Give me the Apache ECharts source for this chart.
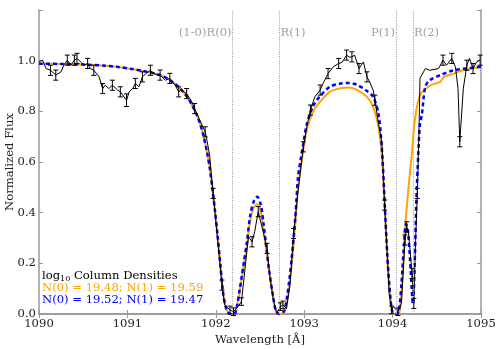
<!DOCTYPE html>
<html>
<head>
<meta charset="utf-8">
<script src="https://cdn.jsdelivr.net/npm/echarts@6/dist/echarts.min.js"></script>
<style>
html,body{margin:0;padding:0;background:#fff;}
#chart{width:498px;height:349px;}
</style>
</head>
<body>
<div id="chart"></div>
<script>
// observed spectrum (wavelength, flux, error half-size; 0 = no bar drawn)
var obsWave = [1090.00,1090.04,1090.08,1090.13,1090.19,1090.25,1090.28,1090.32,1090.36,1090.40,1090.43,1090.47,1090.51,1090.55,1090.58,1090.62,1090.68,1090.72,1090.75,1090.79,1090.83,1090.89,1090.92,1090.99,1091.02,1091.06,1091.09,1091.13,1091.17,1091.21,1091.26,1091.30,1091.34,1091.37,1091.43,1091.48,1091.54,1091.58,1091.61,1091.67,1091.73,1091.76,1091.82,1091.88,1091.90,1091.93,1091.97,1092.01,1092.07,1092.10,1092.16,1092.20,1092.25,1092.29,1092.37,1092.41,1092.44,1092.48,1092.50,1092.54,1092.58,1092.61,1092.65,1092.69,1092.73,1092.76,1092.80,1092.84,1092.88,1092.92,1092.95,1092.99,1093.03,1093.07,1093.12,1093.18,1093.22,1093.27,1093.33,1093.39,1093.43,1093.48,1093.51,1093.54,1093.57,1093.62,1093.67,1093.71,1093.74,1093.78,1093.80,1093.84,1093.88,1093.91,1093.94,1093.96,1093.99,1094.01,1094.06,1094.10,1094.14,1094.16,1094.18,1094.22,1094.24,1094.26,1094.28,1094.30,1094.31,1094.33,1094.35,1094.37,1094.42,1094.52,1094.57,1094.61,1094.67,1094.71,1094.74,1094.76,1094.80,1094.84,1094.87,1094.91,1094.95,1094.99];
var obsFlux = [0.995,1.002,0.969,0.962,0.943,0.956,0.982,1.002,0.982,1.002,1.009,0.995,0.982,0.989,0.969,0.962,0.936,0.890,0.903,0.890,0.903,0.884,0.877,0.844,0.877,0.890,0.910,0.897,0.936,0.949,0.962,0.949,0.943,0.943,0.923,0.930,0.903,0.877,0.884,0.870,0.837,0.811,0.765,0.719,0.686,0.627,0.476,0.330,0.114,0.036,0.016,0.009,0.029,0.049,0.305,0.285,0.325,0.404,0.410,0.318,0.259,0.154,0.055,0.003,0.029,0.036,0.022,0.114,0.318,0.450,0.542,0.660,0.740,0.805,0.857,0.884,0.915,0.949,0.976,0.989,0.994,1.022,1.014,1.015,1.022,0.969,0.995,0.936,0.916,0.884,0.844,0.752,0.673,0.430,0.233,0.082,0.016,0.029,0.009,0.042,0.292,0.344,0.320,0.160,0.042,0.290,0.476,0.752,0.930,0.923,0.956,0.969,0.962,0.969,1.002,0.982,1.009,0.976,0.890,0.680,0.890,0.982,1.009,0.969,0.995,1.002];
var obsErr = [0,0,0,0.02,0.02,0,0,0.02,0,0.02,0.02,0,0,0.02,0,0.02,0,0.02,0,0,0.02,0,0.02,0.025,0,0,0.02,0,0.02,0,0.02,0,0,0.02,0,0.02,0,0.02,0,0.02,0,0.02,0,0.02,0,0,0.02,0,0.02,0,0.015,0.015,0,0.015,0,0.02,0,0.02,0,0,0.02,0,0,0,0.015,0.015,0,0,0.02,0,0,0.02,0,0.02,0,0.02,0,0.02,0,0.02,0,0.02,0,0.02,0,0.02,0,0.02,0,0,0.02,0,0,0.02,0,0,0.015,0,0.015,0,0.02,0.02,0,0.02,0.02,0,0.02,0,0,0,0,0,0,0,0.02,0,0.02,0,0,0.02,0,0.02,0,0.02,0,0.02,0];

// model: N(0)=19.48, N(1)=19.59
var orangeWave = [1090.00,1090.25,1090.50,1090.75,1090.90,1091.05,1091.18,1091.30,1091.37,1091.45,1091.52,1091.58,1091.63,1091.69,1091.74,1091.78,1091.82,1091.86,1091.90,1091.93,1091.96,1091.99,1092.02,1092.05,1092.08,1092.11,1092.14,1092.18,1092.22,1092.24,1092.27,1092.29,1092.32,1092.35,1092.39,1092.43,1092.47,1092.51,1092.54,1092.57,1092.60,1092.65,1092.68,1092.72,1092.77,1092.80,1092.83,1092.86,1092.90,1092.93,1092.95,1092.99,1093.03,1093.10,1093.18,1093.29,1093.40,1093.50,1093.59,1093.71,1093.78,1093.84,1093.88,1093.91,1093.94,1093.97,1094.00,1094.04,1094.08,1094.12,1094.14,1094.18,1094.22,1094.25,1094.31,1094.43,1094.54,1094.58,1094.69,1094.80,1095.00];
var orangeFlux = [0.988,0.987,0.985,0.980,0.975,0.967,0.959,0.950,0.943,0.930,0.913,0.897,0.877,0.850,0.818,0.790,0.753,0.705,0.640,0.580,0.500,0.410,0.310,0.200,0.090,0.030,0.005,0.000,0.004,0.030,0.090,0.134,0.200,0.265,0.371,0.420,0.434,0.400,0.331,0.255,0.175,0.068,0.015,0.000,0.005,0.043,0.110,0.200,0.358,0.500,0.545,0.647,0.726,0.798,0.838,0.877,0.890,0.894,0.886,0.857,0.818,0.739,0.620,0.423,0.226,0.082,0.004,0.000,0.010,0.187,0.330,0.500,0.640,0.760,0.864,0.903,0.916,0.936,0.949,0.962,0.976];

// model: N(0)=19.52, N(1)=19.47
var blueWave = [1090.00,1090.25,1090.50,1090.75,1090.90,1091.05,1091.18,1091.30,1091.37,1091.45,1091.52,1091.58,1091.63,1091.69,1091.74,1091.78,1091.82,1091.86,1091.90,1091.93,1091.96,1091.99,1092.02,1092.05,1092.08,1092.11,1092.14,1092.18,1092.22,1092.24,1092.27,1092.29,1092.32,1092.35,1092.39,1092.43,1092.47,1092.51,1092.54,1092.57,1092.60,1092.65,1092.68,1092.72,1092.77,1092.80,1092.83,1092.86,1092.90,1092.93,1092.96,1092.99,1093.03,1093.10,1093.18,1093.29,1093.40,1093.50,1093.59,1093.71,1093.78,1093.84,1093.88,1093.91,1093.94,1093.97,1094.00,1094.04,1094.07,1094.10,1094.13,1094.15,1094.17,1094.20,1094.23,1094.25,1094.27,1094.29,1094.31,1094.33,1094.37,1094.42,1094.54,1094.69,1095.00];
var blueFlux = [0.988,0.987,0.985,0.980,0.975,0.967,0.959,0.950,0.943,0.930,0.913,0.897,0.877,0.850,0.818,0.790,0.753,0.705,0.640,0.580,0.500,0.410,0.310,0.200,0.090,0.030,0.005,0.000,0.004,0.032,0.095,0.140,0.210,0.280,0.390,0.445,0.463,0.430,0.355,0.270,0.180,0.065,0.012,0.000,0.010,0.055,0.130,0.225,0.385,0.540,0.610,0.673,0.750,0.820,0.860,0.897,0.909,0.912,0.906,0.880,0.857,0.790,0.647,0.440,0.235,0.085,0.005,0.000,0.010,0.120,0.280,0.355,0.340,0.200,0.040,0.200,0.463,0.627,0.752,0.785,0.897,0.923,0.943,0.962,0.976];

// transition markers
var lineNames = ['(1-0)R(0)', 'R(1)', 'P(1)', 'R(2)'];
var lineWave = [1092.19, 1092.72, 1094.04, 1094.23];
var lineSide = ['left', 'right', 'left', 'right'];

var xTicks = [1090, 1091, 1092, 1093, 1094, 1095];
var yTicks = [0.0, 0.2, 0.4, 0.6, 0.8, 1.0];

function zip(a, b) {
    var out = [];
    for (var i = 0; i < a.length; i++) out.push([a[i], b[i]]);
    return out;
}

var errData = [];
for (var i = 0; i < obsWave.length; i++) {
    if (obsErr[i] > 0) errData.push([obsWave[i], obsFlux[i], obsErr[i]]);
}

var serif = 'DejaVu Serif';
var fs = 11.6;
var axisGray = '#999';
var gray = '#888';

var chart = echarts.init(document.getElementById('chart'));

var option = {
    animation: false,
    textStyle: { fontFamily: serif },
    title: {
        left: 42,
        top: 270,
        padding: 0,
        text: '{a|log}{s|10}{a| Column Densities}\n{o|N(0) = 19.48; N(1) = 19.59}\n{b|N(0) = 19.52; N(1) = 19.47}',
        textStyle: {
            fontFamily: serif,
            fontWeight: 'normal',
            rich: {
                a: { fontFamily: serif, fontSize: fs, color: '#000', lineHeight: 12 },
                s: { fontFamily: serif, fontSize: 8, color: '#000', lineHeight: 12, padding: [5, 0, 0, 0] },
                o: { fontFamily: serif, fontSize: fs, color: '#FFA500', lineHeight: 12 },
                b: { fontFamily: serif, fontSize: fs, color: '#0000FF', lineHeight: 12 }
            }
        }
    },
    grid: { left: 39, right: 17, top: 10, bottom: 35, outerBoundsMode: 'none', containLabel: false },
    xAxis: [
        {
            type: 'value', min: 1090, max: 1095, interval: 1,
            name: 'Wavelength [Å]', nameLocation: 'middle', nameGap: 20, nameMoveOverlap: false,
            nameTextStyle: { fontFamily: serif, fontSize: fs, color: '#222' },
            axisLine: { show: true, lineStyle: { color: axisGray, width: 1.5 } },
            axisTick: { inside: true, length: 4, lineStyle: { color: axisGray } },
            axisLabel: { fontFamily: serif, fontSize: fs, color: '#222', margin: 4,
                formatter: function (v) { return xTicks.indexOf(v) >= 0 ? String(v) : ''; } },
            splitLine: { show: false }
        },
        {
            type: 'value', min: 1090, max: 1095, interval: 1, position: 'top',
            axisLine: { show: true, lineStyle: { color: axisGray, width: 1.5 } },
            axisTick: { inside: true, length: 4, lineStyle: { color: axisGray } },
            axisLabel: { show: false },
            splitLine: { show: false }
        }
    ],
    yAxis: [
        {
            type: 'value', min: 0, max: 1.2, interval: 0.2,
            name: 'Normalized Flux', nameLocation: 'middle', nameGap: 23, nameMoveOverlap: false,
            nameTextStyle: { fontFamily: serif, fontSize: fs, color: '#222' },
            axisLine: { show: true, lineStyle: { color: axisGray, width: 1.5 } },
            axisTick: { inside: true, length: 4, lineStyle: { color: axisGray } },
            axisLabel: { fontFamily: serif, fontSize: fs, color: '#222', margin: 3,
                formatter: function (v) {
                    for (var k = 0; k < yTicks.length; k++) {
                        if (Math.abs(v - yTicks[k]) < 1e-6) return yTicks[k].toFixed(1);
                    }
                    return '';
                } },
            splitLine: { show: false }
        },
        {
            type: 'value', min: 0, max: 1.2, interval: 0.2, position: 'right',
            axisLine: { show: true, lineStyle: { color: axisGray, width: 1.5 } },
            axisTick: { inside: true, length: 4, lineStyle: { color: axisGray } },
            axisLabel: { show: false },
            splitLine: { show: false }
        }
    ],
    series: [
        {
            name: 'lines', type: 'scatter', symbolSize: 0, z: 1,
            data: lineWave.map(function (w, i) {
                return { value: [w, 1.11], label: { show: true, position: lineSide[i], distance: 1,
                    formatter: lineNames[i], color: gray, fontFamily: serif, fontSize: fs } };
            }),
            markLine: {
                silent: true, symbol: 'none', label: { show: false },
                lineStyle: { color: '#aaa', type: 'dotted', width: 1.2 },
                data: lineWave.map(function (w) { return { xAxis: w }; })
            }
        },
        {
            name: 'orange', type: 'line', data: zip(orangeWave, orangeFlux), z: 2,
            showSymbol: false, smooth: 0.3,
            lineStyle: { color: '#FFA500', width: 2 }
        },
        {
            name: 'blue', type: 'line', data: zip(blueWave, blueFlux), z: 3,
            showSymbol: false, smooth: 0.3,
            lineStyle: { color: '#0000FF', width: 2.5, type: [4, 3] }
        },
        {
            name: 'obs', type: 'line', data: zip(obsWave, obsFlux), z: 4,
            showSymbol: false,
            lineStyle: { color: '#000', width: 1 }
        },
        {
            name: 'err', type: 'custom', z: 5, data: errData,
            renderItem: function (params, api) {
                var x = api.value(0), y = api.value(1), e = api.value(2);
                var lo = api.coord([x, y - e]);
                var hi = api.coord([x, y + e]);
                var c = 2.5;
                var st = { stroke: '#000', lineWidth: 1 };
                return {
                    type: 'group',
                    children: [
                        { type: 'line', shape: { x1: lo[0], y1: lo[1], x2: hi[0], y2: hi[1] }, style: st },
                        { type: 'line', shape: { x1: lo[0] - c, y1: lo[1], x2: lo[0] + c, y2: lo[1] }, style: st },
                        { type: 'line', shape: { x1: hi[0] - c, y1: hi[1], x2: hi[0] + c, y2: hi[1] }, style: st }
                    ]
                };
            }
        }
    ]
};

chart.setOption(option);
</script>
</body>
</html>
